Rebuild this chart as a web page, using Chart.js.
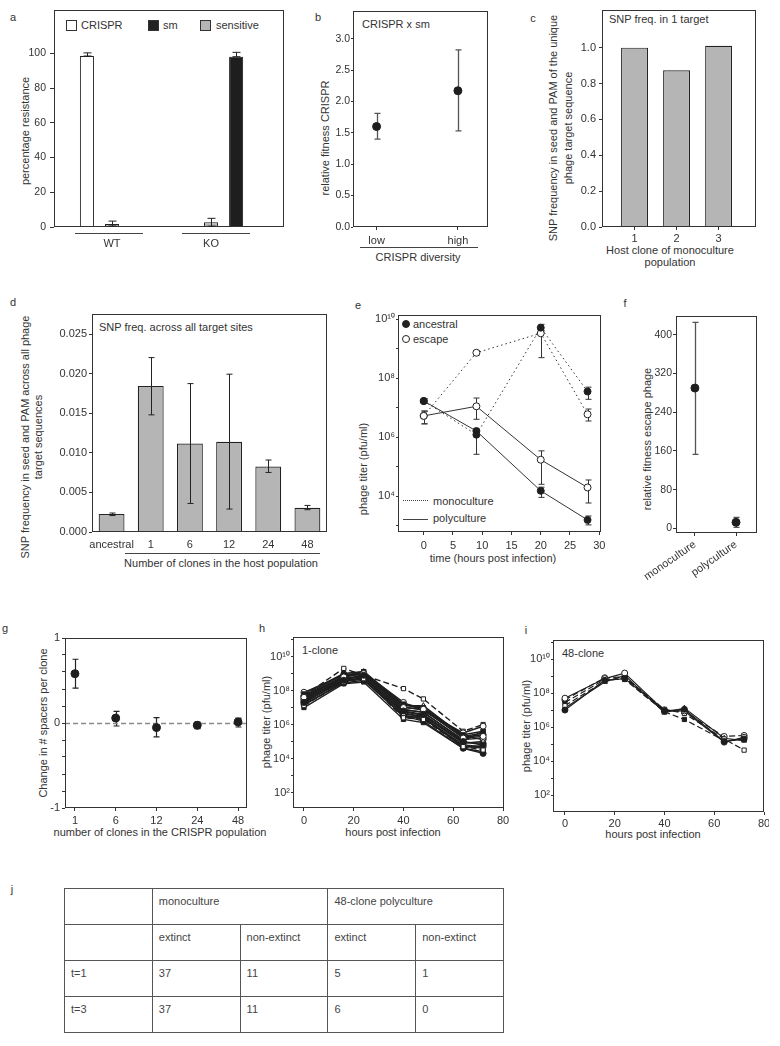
<!DOCTYPE html>
<html>
<head>
<meta charset="utf-8">
<script src="https://cdn.jsdelivr.net/npm/chart.js"></script>
<style>
body{margin:0;width:780px;height:1046px;position:relative;overflow:hidden;background:#fff;
  font-family:"Liberation Sans",Arial,Helvetica,sans-serif;color:#333}
.t{position:absolute;white-space:nowrap;font-size:11px;line-height:13px;transform:translate(-50%,-50%)}
.l{transform:translate(0,-50%)}
.v{transform:translate(-50%,-50%) rotate(-90deg);text-align:center}
.u{position:absolute;height:0;border-top:1px solid #444}
.sq{position:absolute;width:9px;height:9px;border:1px solid #333}
.dot{position:absolute;width:6px;height:6px;border-radius:50%;border:1px solid #222}
#tj{position:absolute;left:64px;top:888px;border-collapse:collapse;table-layout:fixed;width:440px}
#tj td{border:1.5px solid #555;height:36px;padding:6px 6px 0;vertical-align:top;font-size:11px;color:#444;box-sizing:border-box}
</style>
</head>
<body>
<!-- panel letters -->
<div class="t" style="left:13px;top:17px">a</div>
<div class="t" style="left:318px;top:17px">b</div>
<div class="t" style="left:533px;top:18px">c</div>
<div class="t" style="left:13px;top:302px">d</div>
<div class="t" style="left:358px;top:305px">e</div>
<div class="t" style="left:625px;top:303px">f</div>
<div class="t" style="left:5px;top:628px">g</div>
<div class="t" style="left:262px;top:628px">h</div>
<div class="t" style="left:526px;top:630px">i</div>
<div class="t" style="left:12px;top:889px">j</div>

<!-- a -->
<div class="sq" style="left:66px;top:20px;background:#fff"></div>
<div class="t l" style="left:81px;top:25px">CRISPR</div>
<div class="sq" style="left:148px;top:20px;background:#222"></div>
<div class="t l" style="left:163px;top:25px">sm</div>
<div class="sq" style="left:200px;top:20px;background:#b5b5b5"></div>
<div class="t l" style="left:216px;top:25px">sensitive</div>
<div class="t v" style="left:25px;top:131px">percentage resistance</div>
<div class="u" style="left:75px;top:233px;width:68px"></div>
<div class="u" style="left:182px;top:233px;width:68px"></div>

<!-- b -->
<div class="t l" style="left:362px;top:24px">CRISPR x sm</div>
<div class="t v" style="left:325px;top:138px">relative fitness CRISPR</div>
<div class="u" style="left:360px;top:247px;width:118px"></div>
<div class="t" style="left:418px;top:257px">CRISPR diversity</div>

<!-- c -->
<div class="t l" style="left:609px;top:19px">SNP freq. in 1 target</div>
<div class="t v" style="left:553px;top:128px">SNP frequency in seed and PAM of the unique</div>
<div class="t v" style="left:568px;top:128px">phage target sequence</div>
<div class="t" style="left:670px;top:250px">Host clone of monoculture</div>
<div class="t" style="left:670px;top:262px">population</div>

<!-- d -->
<div class="t l" style="left:99px;top:327px">SNP freq. across all target sites</div>
<div class="t v" style="left:25px;top:437px">SNP frequency in seed and PAM across all phage</div>
<div class="t v" style="left:38px;top:437px">target sequences</div>
<div class="u" style="left:125px;top:553px;width:195px"></div>
<div class="t" style="left:221px;top:563px">Number of clones in the host population</div>

<!-- e -->
<div class="dot" style="left:402px;top:320px;background:#222"></div>
<div class="t l" style="left:413px;top:324px">ancestral</div>
<div class="dot" style="left:402px;top:335px;background:#fff"></div>
<div class="t l" style="left:413px;top:339px">escape</div>
<div class="u" style="left:403px;top:500px;width:25px;border-top:1.5px dotted #444"></div>
<div class="t l" style="left:433px;top:501px">monoculture</div>
<div class="u" style="left:403px;top:519px;width:25px"></div>
<div class="t l" style="left:433px;top:518px">polyculture</div>
<div class="t v" style="left:363px;top:469px">phage titer (pfu/ml)</div>
<div class="t" style="left:493px;top:558px">time (hours post infection)</div>

<!-- f -->
<div class="t v" style="left:647px;top:439px">relative fitness escape phage</div>

<!-- g -->
<div class="t v" style="left:43px;top:723px">Change in # spacers per clone</div>
<div class="t" style="left:160px;top:832px">number of clones in the CRISPR population</div>

<!-- h -->
<div class="t l" style="left:302px;top:650px">1-clone</div>
<div class="t v" style="left:266px;top:722px">phage titer (pfu/ml)</div>
<div class="t" style="left:393px;top:832px">hours post infection</div>

<!-- i -->
<div class="t l" style="left:562px;top:653px">48-clone</div>
<div class="t v" style="left:526px;top:726px">phage titer (pfu/ml)</div>
<div class="t" style="left:653px;top:834px">hours post infection</div>

<table id="tj"></table>

<script>
// ---- a: resistance after phage exposure
const groupsA = ['WT', 'KO'];
const crisprA = [98.5, 0];
const crisprHiA = [100.3, 0];
const smA = [0, 98.1];
const smHiA = [0, 100.6];
const sensitiveA = [1.8, 2.7];
const sensitiveLoA = [0.6, 0.5];
const sensitiveHiA = [3.4, 5.0];
const ticksA = [0, 20, 40, 60, 80, 100];

// ---- b: relative fitness CRISPR
const diversityB = ['low', 'high'];
const fitnessB = [1.60, 2.17];
const fitnessLoB = [1.40, 1.53];
const fitnessHiB = [1.81, 2.82];
const ticksB = [0, 0.5, 1.0, 1.5, 2.0, 2.5, 3.0];

// ---- c: SNP freq in 1 target
const clonesC = [1, 2, 3];
const snpC = [1.0, 0.874, 1.011];
const ticksC = [0, 0.2, 0.4, 0.6, 0.8, 1.0];

// ---- d: SNP freq across all target sites
const clonesD = ['ancestral', '1', '6', '12', '24', '48'];
const snpD = [0.00227, 0.01847, 0.01119, 0.0114, 0.00829, 0.00307];
const snpLoD = [0.00208, 0.01481, 0.00361, 0.0029, 0.00753, 0.00282];
const snpHiD = [0.0024, 0.02205, 0.01876, 0.01995, 0.0091, 0.00336];
const ticksD = [0, 0.005, 0.010, 0.015, 0.020, 0.025];

// ---- e: phage titer over time
const hoursE = [0, 9, 20, 28];
const ancMonoE = [1.66e7, 1.2e6, 5.1e9, 3.5e7];
const ancMonoLoE = [1.4e7, 2.6e5, 4.0e9, 1.9e7];
const ancMonoHiE = [2.0e7, 1.6e6, 6.6e9, 4.9e7];
const escMonoE = [5.2e6, 7.2e8, 3.3e9, 5.9e6];
const escMonoLoE = [2.8e6, 6.0e8, 4.9e8, 3.5e6];
const escMonoHiE = [7.6e6, 8.5e8, 4.0e9, 8.9e6];
const ancPolyE = [1.66e7, 1.6e6, 1.5e4, 1.55e3];
const ancPolyLoE = [1.4e7, 1.3e6, 9.0e3, 1.05e3];
const ancPolyHiE = [2.0e7, 1.9e6, 2.0e4, 2.1e3];
const escPolyE = [5.2e6, 1.1e7, 1.7e5, 1.95e4];
const escPolyLoE = [2.8e6, 4.0e6, 2.5e4, 5.8e3];
const escPolyHiE = [7.6e6, 2.1e7, 3.4e5, 3.5e4];
const ticksE = [1e3, 1e4, 1e5, 1e6, 1e7, 1e8, 1e9, 1e10];
const hourTicksE = [0, 5, 10, 15, 20, 25, 30];

// ---- f: relative fitness escape phage
const cultureF = ['monoculture', 'polyculture'];
const fitnessF = [290, 12.4];
const fitnessLoF = [153, 2.1];
const fitnessHiF = [426, 22.8];
const ticksF = [0, 80, 160, 240, 320, 400];

// ---- g: change in spacers per clone
const clonesG = ['1', '6', '12', '24', '48'];
const spacersG = [0.58, 0.058, -0.054, -0.027, 0.012];
const spacersLoG = [0.41, -0.035, -0.163, -0.065, -0.047];
const spacersHiG = [0.75, 0.136, 0.063, 0.012, 0.058];
const ticksG = [-1, -0.8, -0.6, -0.4, -0.2, 0, 0.2, 0.4, 0.6, 0.8, 1];

// ---- h / i: phage titer per replicate
const hoursHI = [0, 16, 24, 40, 48, 64, 72];
const titersH = [
  [2.0e7, 4.0e8, 7.9e8, 6.3e6, 4.0e6, 1.0e5, 6.3e4],
  [4.0e7, 6.3e8, 1.0e9, 1.0e7, 7.9e6, 1.6e5, 2.0e5],
  [1.3e7, 3.2e8, 5.0e8, 2.5e6, 2.0e6, 5.0e4, 3.2e4],
  [6.3e7, 1.0e9, 1.3e9, 1.6e7, 1.0e7, 2.5e5, 4.0e5],
  [2.5e7, 5.0e8, 6.3e8, 4.0e6, 3.2e6, 7.9e4, 1.0e5],
  [7.9e7, 7.9e8, 1.1e9, 2.0e7, 6.3e6, 3.2e5, 7.9e5],
  [1.6e7, 2.8e8, 4.0e8, 3.2e6, 1.6e6, 4.0e4, 2.0e4],
  [3.2e7, 4.0e8, 8.9e8, 7.9e6, 5.0e6, 1.3e5, 1.6e5],
  [5.0e7, 2.0e9, 7.9e8, 1.3e8, 3.2e7, 4.0e5, 1.0e6],
  [1.0e7, 2.5e8, 3.2e8, 2.0e6, 1.3e6, 4.0e4, 2.5e4],
  [4.0e7, 6.3e8, 1.3e9, 1.3e7, 1.3e7, 2.0e5, 3.2e5],
  [2.2e7, 3.5e8, 5.6e8, 5.0e6, 2.5e6, 6.3e4, 5.0e4],
  [2.8e7, 5.6e8, 7.1e8, 5.6e6, 3.5e6, 8.9e4, 7.9e4],
  [5.0e7, 8.9e8, 1.0e9, 1.1e7, 7.1e6, 1.8e5, 2.5e5],
  [1.8e7, 4.5e8, 4.5e8, 3.5e6, 2.2e6, 5.6e4, 4.0e4],
  [3.5e7, 6.3e8, 1.3e9, 7.1e6, 5.6e6, 1.1e5, 4.0e5],
  [1.4e7, 3.2e8, 6.3e8, 2.8e6, 2.8e6, 4.5e4, 5.6e4],
  [4.5e7, 7.1e8, 8.9e8, 1.4e7, 8.9e6, 2.2e5, 1.3e5]
];
const titersI = [
  [1.0e7, 5.6e8, 7.1e8, 8.9e6, 1.1e7, 1.4e5, 2.0e5],
  [5.0e7, 7.1e8, 1.5e9, 8.9e6, 8.9e6, 1.3e5, 2.5e5],
  [1.8e7, 5.0e8, 7.9e8, 1.1e7, 6.3e6, 2.0e5, 4.4e4],
  [2.8e7, 6.3e8, 6.3e8, 7.9e6, 2.8e6, 1.6e5, 1.8e5],
  [1.3e7, 4.5e8, 1.1e9, 7.1e6, 1.3e7, 2.2e5, 1.6e5],
  [4.0e7, 7.9e8, 8.9e8, 1.0e7, 7.9e6, 2.8e5, 3.2e5]
];
const ticksHI = [1e2, 1e3, 1e4, 1e5, 1e6, 1e7, 1e8, 1e9, 1e10, 1e11];
const hourTicksHI = [0, 20, 40, 60, 80];

// ---- j: extinction table
const headJ = ['monoculture', '48-clone polyculture'];
const subJ = ['extinct', 'non-extinct', 'extinct', 'non-extinct'];
const timesJ = ['t=1', 't=3'];
const monoExtinctJ = [37, 37];
const monoLiveJ = [11, 11];
const polyExtinctJ = [5, 6];
const polyLiveJ = [1, 0];

Chart.defaults.font.family = '"Liberation Sans", Arial, Helvetica, sans-serif';
Chart.defaults.font.size = 10.5;
Chart.defaults.color = '#333';
Chart.defaults.plugins.legend.display = false;
Chart.defaults.plugins.tooltip.enabled = false;

// box around the plot area
Chart.register({
  id: 'frame',
  afterDatasetsDraw(chart) {
    const a = chart.chartArea, c = chart.ctx;
    c.save();
    c.strokeStyle = '#333';
    c.lineWidth = 1;
    c.strokeRect(a.left + 0.5, a.top + 0.5, a.right - a.left - 1, a.bottom - a.top - 1);
    c.restore();
  }
});

// vertical error bars from errLo / errHi
function drawErr(chart) {
  const c = chart.ctx, ys = chart.scales.y;
  chart.data.datasets.forEach((ds, di) => {
    if (!ds.errLo) return;
    const meta = chart.getDatasetMeta(di);
    c.save();
    c.strokeStyle = ds.errColor || '#222';
    c.lineWidth = ds.errWidth || 1;
    meta.data.forEach((el, i) => {
      const lo = ds.errLo[i], hi = ds.errHi[i];
      if (lo == null || hi == null || lo === hi) return;
      const x = Math.round(el.x) + 0.5, w = ds.capWidth || 3;
      const y0 = ys.getPixelForValue(lo), y1 = ys.getPixelForValue(hi);
      c.beginPath();
      c.moveTo(x, y0); c.lineTo(x, y1);
      c.moveTo(x - w, y0); c.lineTo(x + w, y0);
      c.moveTo(x - w, y1); c.lineTo(x + w, y1);
      c.stroke();
    });
    c.restore();
  });
}
Chart.register({
  id: 'errbars',
  defaults: { under: false },
  beforeDatasetsDraw(chart, args, opts) { if (opts.under) drawErr(chart); },
  afterDatasetsDraw(chart, args, opts) { if (!opts.under) drawErr(chart); }
});

// dashed reference line (panel g)
Chart.register({
  id: 'refline',
  beforeDatasetsDraw(chart, args, opts) {
    if (opts.value == null) return;
    const a = chart.chartArea, c = chart.ctx;
    const y = Math.round(chart.scales.y.getPixelForValue(opts.value)) + 0.5;
    c.save();
    c.strokeStyle = '#8a8a8a';
    c.lineWidth = 1.5;
    c.setLineDash([5, 3]);
    c.beginPath(); c.moveTo(a.left, y); c.lineTo(a.right, y); c.stroke();
    c.restore();
  }
});

function axis(min, max, ticks, fmt, o = {}) {
  const tl = o.tl ?? 3;
  return {
    type: o.type || 'linear', min, max, offset: false,
    afterBuildTicks: s => { s.ticks = ticks.map(v => ({ value: v })); },
    ticks: { callback: fmt, padding: o.pad ?? 3, autoSkip: false,
             maxRotation: o.rot || 0, minRotation: o.rot || 0,
             font: { size: o.size || 10.5 }, color: '#333' },
    grid: { display: tl > 0, drawTicks: tl > 0, drawOnChartArea: false, tickLength: tl, color: '#333', offset: false },
    border: { display: false }
  };
}

const SUP = { '0': '⁰', '1': '¹', '2': '²', '3': '³', '4': '⁴', '5': '⁵', '6': '⁶', '7': '⁷', '8': '⁸', '9': '⁹' };
function pow10(v) {
  const e = Math.round(Math.log10(v));
  return e % 2 ? '' : '10' + String(e).split('').map(d => SUP[d]).join('');
}
const pts = (xs, ys) => xs.map((x, i) => ({ x, y: ys[i] }));

// box = plot area [l,t,r,b] on page, m = room outside it [left,top,right,bottom]
function panel(box, m, config) {
  const [l, t, r, b] = box;
  const w = r - l + m[0] + m[2], h = b - t + m[1] + m[3];
  const cv = document.createElement('canvas');
  cv.width = w; cv.height = h;
  cv.style.cssText = `position:absolute;left:${l - m[0]}px;top:${t - m[1]}px;width:${w}px;height:${h}px`;
  document.body.appendChild(cv);
  const o = config.options;
  o.responsive = false;
  o.animation = false;
  o.layout = { padding: { left: 0, top: m[1], right: m[2], bottom: 0 } };
  o.scales.x.afterFit = s => { s.height = m[3]; s.paddingLeft = 0; s.paddingRight = 0; };
  o.scales.y.afterFit = s => { s.width = m[0]; s.paddingTop = 0; s.paddingBottom = 0; };
  return new Chart(cv, config);
}

// ---------- a
panel([54, 10, 284, 227], [44, 4, 4, 32], {
  type: 'bar',
  data: { datasets: [
    { data: pts([0, 1], crisprA), backgroundColor: '#fff', borderColor: '#222', borderWidth: 1,
      errLo: crisprA, errHi: crisprHiA, capWidth: 4 },
    { data: pts([0, 1], sensitiveA), backgroundColor: '#b5b5b5', borderColor: '#222', borderWidth: 1,
      errLo: sensitiveLoA, errHi: sensitiveHiA, capWidth: 4 },
    { data: pts([0, 1], smA), backgroundColor: '#1e1e1e', borderColor: '#1e1e1e', borderWidth: 1,
      errLo: smA, errHi: smHiA, capWidth: 4 }
  ] },
  options: {
    categoryPercentage: 0.76, barPercentage: 0.56,
    scales: {
      x: axis(-0.586, 1.737, [0, 1], v => groupsA[v], { tl: 0, pad: 10, size: 11 }),
      y: axis(0, 125, ticksA, v => String(v), { tl: 4, pad: 4 })
    }
  }
});

// ---------- b
panel([353, 10, 489, 227], [33, 4, 4, 22], {
  type: 'scatter',
  data: { datasets: [
    { data: pts([0, 1], fitnessB), pointRadius: 4, pointBackgroundColor: '#1e1e1e', pointBorderColor: '#1e1e1e',
      errLo: fitnessLoB, errHi: fitnessHiB, errColor: '#555', errWidth: 1.3, capWidth: 3 }
  ] },
  options: {
    plugins: { errbars: { under: true } },
    scales: {
      x: axis(-0.29, 1.37, [0, 1], v => diversityB[v], { tl: 3, pad: 4, size: 11 }),
      y: axis(0, 3.44, ticksB, v => v.toFixed(1), { tl: 2, pad: 1 })
    }
  }
});

// ---------- c
panel([602, 10, 756, 227], [30, 4, 4, 20], {
  type: 'bar',
  data: { datasets: [
    { data: pts(clonesC, snpC), backgroundColor: '#b5b5b5', borderColor: '#222', borderWidth: 1.2 }
  ] },
  options: {
    categoryPercentage: 1, barPercentage: 0.64,
    scales: {
      x: axis(0.226, 3.89, clonesC, v => String(v), { tl: 3, pad: 2, size: 11 }),
      y: axis(0, 1.21, ticksC, v => v.toFixed(1), { tl: 3, pad: 3, size: 11 })
    }
  }
});

// ---------- d
panel([92, 314, 327, 532], [40, 4, 4, 22], {
  type: 'bar',
  data: { labels: clonesD, datasets: [
    { data: snpD, backgroundColor: '#b5b5b5', borderColor: '#222', borderWidth: 1.2,
      errLo: snpLoD, errHi: snpHiD, capWidth: 3 }
  ] },
  options: {
    categoryPercentage: 1, barPercentage: 0.66,
    scales: {
      x: { type: 'category', offset: true, grid: { display: false, drawTicks: false }, border: { display: false },
           ticks: { padding: 6, font: { size: 11 }, color: '#333', autoSkip: false, maxRotation: 0 } },
      y: axis(0, 0.02756, ticksD, v => v.toFixed(3), { tl: 3, pad: 2, size: 11 })
    }
  }
});

// ---------- e
const lineE = (ys, lo, hi, fill, dash) => ({
  data: pts(hoursE, ys), errLo: lo, errHi: hi, errColor: '#333', capWidth: 3,
  borderColor: '#333', borderWidth: 1, borderDash: dash,
  pointRadius: 3.5, pointBackgroundColor: fill, pointBorderColor: '#222', pointBorderWidth: 1
});
panel([398, 315, 602, 532], [30, 6, 4, 22], {
  type: 'line',
  data: { datasets: [
    lineE(ancPolyE, ancPolyLoE, ancPolyHiE, '#1e1e1e', []),
    lineE(escPolyE, escPolyLoE, escPolyHiE, '#fff', []),
    lineE(ancMonoE, ancMonoLoE, ancMonoHiE, '#1e1e1e', [1.5, 3]),
    lineE(escMonoE, escMonoLoE, escMonoHiE, '#fff', [1.5, 3])
  ] },
  options: {
    plugins: { errbars: { under: true } },
    scales: {
      x: axis(-4.4, 30.3, hourTicksE, v => String(v), { tl: 3, pad: 4, size: 11 }),
      y: axis(603, 1.37e10, ticksE, pow10, { type: 'logarithmic', tl: 2, pad: 1, size: 11 })
    }
  }
});

// ---------- f
panel([676, 316, 757, 533], [40, 6, 6, 52], {
  type: 'scatter',
  data: { datasets: [
    { data: pts([0, 1], fitnessF), pointRadius: 4, pointBackgroundColor: '#1e1e1e', pointBorderColor: '#1e1e1e',
      errLo: fitnessLoF, errHi: fitnessHiF, errColor: '#555', errWidth: 1.3, capWidth: 3 }
  ] },
  options: {
    plugins: { errbars: { under: true } },
    scales: {
      x: axis(-0.46, 1.51, [0, 1], v => cultureF[v], { tl: 3, pad: 2, rot: 35, size: 11 }),
      y: axis(-9.7, 439, ticksF, v => String(v), { tl: 3, pad: 1 })
    }
  }
});

// ---------- g
panel([65, 637, 248, 808], [30, 4, 4, 20], {
  type: 'scatter',
  data: { datasets: [
    { data: pts([0, 1, 2, 3, 4], spacersG), pointRadius: 4, pointBackgroundColor: '#1e1e1e', pointBorderColor: '#1e1e1e',
      errLo: spacersLoG, errHi: spacersHiG, errColor: '#222', errWidth: 1.2, capWidth: 3 }
  ] },
  options: {
    plugins: { errbars: { under: true }, refline: { value: 0 } },
    scales: {
      x: axis(-0.244, 4.22, [0, 1, 2, 3, 4], v => clonesG[v], { tl: 3, pad: 3, size: 11 }),
      y: axis(-1, 1, ticksG, v => (Math.abs(v - Math.round(v)) < 1e-9 ? String(Math.round(v)) : ''), { tl: 3, pad: 2, size: 11 })
    }
  }
});

// ---------- h / i
const MARKS = [
  ['circle', '#1e1e1e'], ['circle', '#fff'], ['rect', '#fff'], ['rect', '#1e1e1e'], ['triangle', '#fff'], ['circle', '#fff']
];
function titerSets(rows, dashed, lw) {
  return rows.map((ys, k) => ({
    data: pts(hoursHI, ys),
    borderColor: '#1e1e1e', borderWidth: lw,
    borderDash: dashed.includes(k) ? [6, 3] : [],
    pointStyle: MARKS[k % MARKS.length][0], pointRadius: 3,
    pointBackgroundColor: MARKS[k % MARKS.length][1], pointBorderColor: '#1e1e1e', pointBorderWidth: 1
  }));
}
panel([293, 636, 505, 808], [35, 4, 4, 20], {
  type: 'line',
  data: { datasets: titerSets(titersH, [2, 8], 1.4) },
  options: {
    scales: {
      x: axis(-4.4, 80.4, hourTicksHI, v => String(v), { tl: 3, pad: 3, size: 11 }),
      y: axis(12.3, 1.41e11, ticksHI, pow10, { type: 'logarithmic', tl: 2, pad: 1, size: 11 })
    }
  }
});
panel([553, 639, 765, 812], [35, 4, 4, 20], {
  type: 'line',
  data: { datasets: titerSets(titersI, [2, 3, 5], 1.2) },
  options: {
    scales: {
      x: axis(-4.8, 80, hourTicksHI, v => String(v), { tl: 3, pad: 2, size: 11 }),
      y: axis(10.1, 1.32e11, ticksHI, pow10, { type: 'logarithmic', tl: 2, pad: 1, size: 11 })
    }
  }
});

// ---------- j
const cell = s => `<td>${s}</td>`;
let html = '<tr>' + cell('') + `<td colspan="2">${headJ[0]}</td><td colspan="2">${headJ[1]}</td></tr>`;
html += '<tr>' + cell('') + subJ.map(cell).join('') + '</tr>';
timesJ.forEach((t, i) => {
  html += '<tr>' + [t, monoExtinctJ[i], monoLiveJ[i], polyExtinctJ[i], polyLiveJ[i]].map(cell).join('') + '</tr>';
});
document.getElementById('tj').innerHTML = html;
</script>
</body>
</html>
